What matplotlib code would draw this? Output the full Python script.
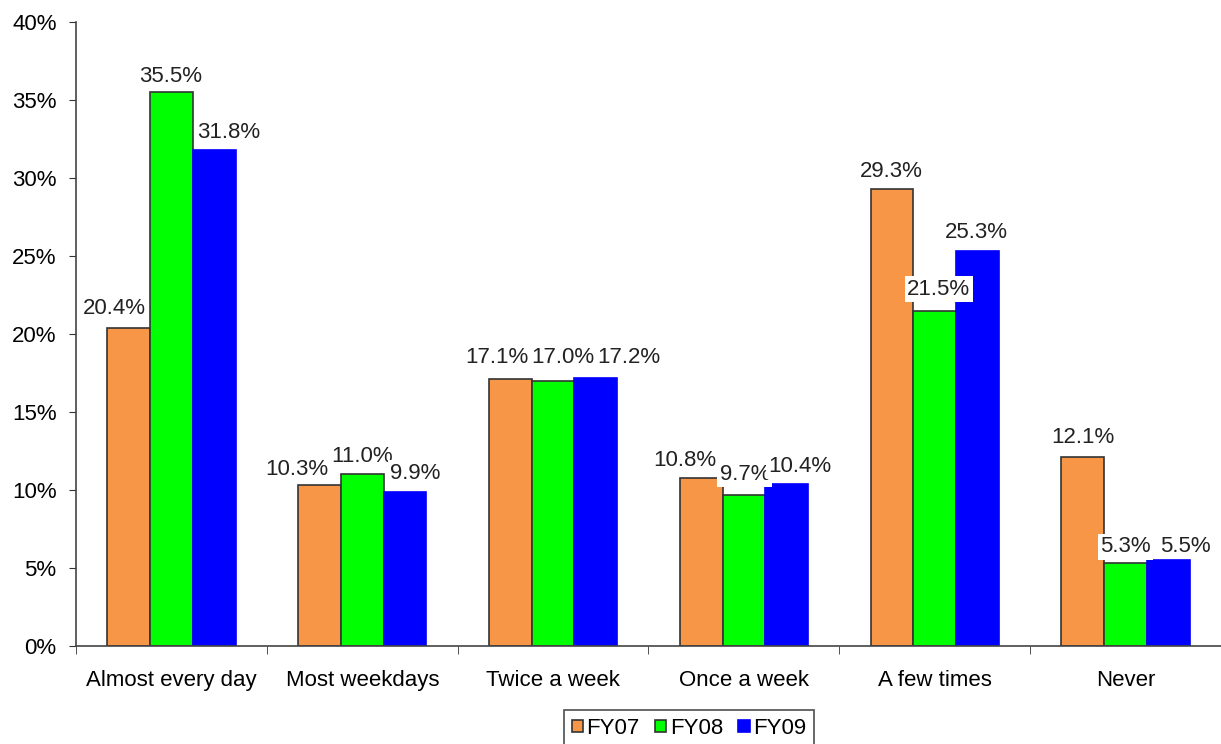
import matplotlib
matplotlib.use("Agg")
import matplotlib.pyplot as plt
import numpy as np

categories = ["Almost every day", "Most weekdays", "Twice a week",
              "Once a week", "A few times", "Never"]
fy07 = [20.4, 10.3, 17.1, 10.8, 29.3, 12.1]
fy08 = [35.5, 11.0, 17.0, 9.7, 21.5, 5.3]
fy09 = [31.8, 9.9, 17.2, 10.4, 25.3, 5.5]
series_names = ["FY07", "FY08", "FY09"]

# label nudges in pixels (dx, gap above bar), mimicking the spreadsheet's layout
label_nudge = [
    [(-14, 14), (-23, 10), (-13, 16), (-16, 12), (-1, 12), (0, 14)],
    [(-1, 10), (0, 12), (10, 18), (1, 15), (4, 16), (0, 11)],
    [(15, 12), (10, 13), (33, 15), (13, 12), (-1, 13), (17, 8)],
]

plt.rcParams["font.family"] = ["Liberation Sans", "DejaVu Sans"]
FS = 16

W, H = 1221, 744
fig = plt.figure(figsize=(W / 100, H / 100), dpi=100)
ax = fig.add_axes([76 / W, 1 - 646 / H, (W - 76) / W, (646 - 22) / H])

x = np.arange(len(categories))
bw = 0.224
series = [
    (fy07, "#F79646", "#333333"),
    (fy08, "#00FF00", "#333333"),
    (fy09, "#0000FF", "#0000FF"),
]
for i, (vals, color, edge) in enumerate(series):
    pos = x + (i - 1) * bw
    ax.bar(pos, vals, width=bw, color=color, edgecolor=edge, linewidth=1.2,
           label=series_names[i], zorder=2)
    for j, (px, v) in enumerate(zip(pos, vals)):
        dx, dy = label_nudge[i][j]
        ax.annotate(f"{v:.1f}%", (px, v), xytext=(dx, dy), textcoords="offset pixels",
                    ha="center", va="baseline", fontsize=FS, color="#222222",
                    bbox=dict(boxstyle="square,pad=0.1", fc="white", ec="none"),
                    zorder=3)

ax.set_ylim(0, 40)
ax.set_xlim(-0.5, len(categories) - 0.5)
ax.set_yticks(np.arange(0, 41, 5))
ax.set_yticklabels([f"{t}%" for t in range(0, 41, 5)], fontsize=FS)
ax.set_xticks(x)
ax.set_xticklabels(categories, fontsize=FS)
ax.set_xticks(np.arange(-0.5, len(categories), 1), minor=True)
ax.tick_params(axis="x", which="major", length=0, pad=17)
ax.tick_params(axis="x", which="minor", length=6, direction="out", color="#333333")
ax.tick_params(axis="y", length=5, direction="out", color="#333333", pad=9)
for s in ["top", "right"]:
    ax.spines[s].set_visible(False)
for s in ["left", "bottom"]:
    ax.spines[s].set_color("#444444")
    ax.spines[s].set_linewidth(1.2)

leg = fig.legend(loc="upper center", bbox_to_anchor=(689 / W, 1 - 710 / H),
                 ncol=3, fontsize=FS, frameon=True, fancybox=False,
                 edgecolor="#222222", handlelength=0.5, handleheight=0.5,
                 handletextpad=0.15, columnspacing=0.7, borderpad=0.35,
                 borderaxespad=0)
leg.get_frame().set_linewidth(1.2)
for h in leg.legend_handles:
    h.set_edgecolor("#333333")
leg.legend_handles[2].set_edgecolor("#0000FF")

fig.savefig("out.png", dpi=100)
